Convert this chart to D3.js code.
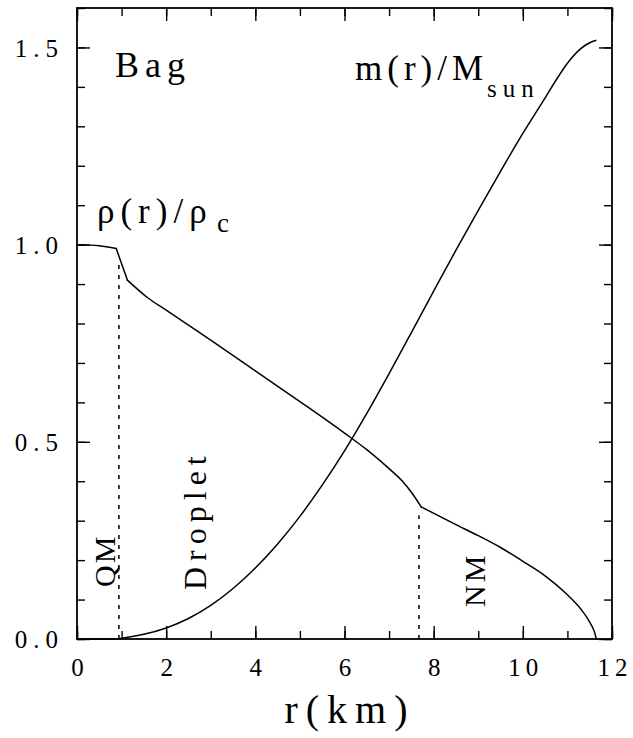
<!DOCTYPE html>
<html><head><meta charset="utf-8">
<script src="https://cdn.jsdelivr.net/npm/d3@7"></script>
<style>body{margin:0;background:#fff}svg{display:block}text{font-family:"Liberation Serif","DejaVu Serif",serif;fill:#000}</style>
</head><body>
<svg id="c" width="633" height="738"></svg>
<script>
// Data
const densityR   = [0, 0.5, 0.88, 1.13, 1.6, 2.0, 3.0, 4.0, 5.0, 6.0, 6.5, 7.0, 7.3, 7.5, 7.72, 8.5, 9.0, 9.5, 10.0, 10.5, 11.0, 11.3, 11.5, 11.6, 11.65];
const densityVal = [1.0, 0.997, 0.99, 0.91, 0.864, 0.834, 0.758, 0.68, 0.602, 0.522, 0.48, 0.432, 0.4, 0.372, 0.335, 0.29, 0.262, 0.232, 0.197, 0.16, 0.112, 0.076, 0.043, 0.02, 0.0];
const densityKinks = [0.88, 1.13, 7.72];
const massR      = [0, 0.5, 0.9, 1.0, 1.5, 2.0, 2.5, 3.0, 3.5, 4.0, 4.5, 5.0, 5.5, 6.0, 6.5, 7.0, 7.5, 8.0, 8.5, 9.0, 9.5, 10.0, 10.5, 10.75, 11.0, 11.3, 11.5, 11.65];
const massVal    = [0, 0, 0, 0.002, 0.012, 0.028, 0.052, 0.085, 0.128, 0.18, 0.241, 0.311, 0.39, 0.477, 0.572, 0.673, 0.777, 0.882, 0.986, 1.087, 1.186, 1.282, 1.372, 1.418, 1.46, 1.497, 1.512, 1.518];
const boundaryR   = [0.94, 7.67];
const boundaryTop = [0.96, 0.314];
const xMajorTicks = [0, 2, 4, 6, 8, 10, 12];
const yMajorTicks = [0.0, 0.5, 1.0, 1.5];

const svg = d3.select("#c");
const L = 77, R = 612, T = 8, B = 639;
const x = d3.scaleLinear().domain([0, 12]).range([L, R]);
const y = d3.scaleLinear().domain([0, 1.6]).range([B, T]);

const xMinor = d3.range(0, 12.001, 1);
const yMinor = d3.range(0, 1.6001, 0.1);

function clean(g){ g.select(".domain").remove(); g.selectAll(".tick line").attr("stroke","#000").attr("stroke-width",1.4); }

// bottom
svg.append("g").attr("transform",`translate(0,${B})`)
  .call(d3.axisBottom(x).tickValues(xMinor).tickSize(-8).tickFormat("")).call(clean);
svg.append("g").attr("transform",`translate(0,${B})`)
  .call(d3.axisBottom(x).tickValues(xMajorTicks).tickSize(-13).tickPadding(19).tickFormat(d3.format("d"))).call(clean)
  .call(g=>g.selectAll("text").attr("font-size",25).attr("letter-spacing",5).attr("dy","0.71em").attr("dx","2.5"));
// top
svg.append("g").attr("transform",`translate(0,${T})`)
  .call(d3.axisTop(x).tickValues(xMinor).tickSize(-8).tickFormat("")).call(clean);
svg.append("g").attr("transform",`translate(0,${T})`)
  .call(d3.axisTop(x).tickValues(xMajorTicks).tickSize(-13).tickFormat("")).call(clean);
// left
svg.append("g").attr("transform",`translate(${L},0)`)
  .call(d3.axisLeft(y).tickValues(yMinor).tickSize(-8).tickFormat("")).call(clean);
svg.append("g").attr("transform",`translate(${L},0)`)
  .call(d3.axisLeft(y).tickValues(yMajorTicks).tickSize(-13).tickPadding(13).tickFormat(d3.format(".1f"))).call(clean)
  .call(g=>g.selectAll("text").attr("font-size",25).attr("letter-spacing",6).attr("dy","0.35em"));
// right
svg.append("g").attr("transform",`translate(${R},0)`)
  .call(d3.axisRight(y).tickValues(yMinor).tickSize(-8).tickFormat("")).call(clean);
svg.append("g").attr("transform",`translate(${R},0)`)
  .call(d3.axisRight(y).tickValues(yMajorTicks).tickSize(-13).tickFormat("")).call(clean);

// frame
svg.append("rect").attr("x",L).attr("y",T).attr("width",R-L).attr("height",B-T)
  .attr("fill","none").attr("stroke","#000").attr("stroke-width",1.8);

// curves
const line = d3.line().x(d=>x(d[0])).y(d=>y(d[1])).curve(d3.curveMonotoneX);
const densPts = densityR.map((r,i)=>[r,densityVal[i]]);
// split density into smooth pieces at its kinks
const cuts = [0, ...densityKinks, 12];
for (let k = 0; k < cuts.length - 1; k++) {
  const seg = densPts.filter(p => p[0] >= cuts[k] && p[0] <= cuts[k+1]);
  svg.append("path").datum(seg).attr("d",line).attr("fill","none")
    .attr("stroke","#000").attr("stroke-width",1.5).attr("stroke-linejoin","round").attr("stroke-linecap","round");
}
svg.append("path").datum(massR.map((r,i)=>[r,massVal[i]]))
  .attr("d",line).attr("fill","none").attr("stroke","#000").attr("stroke-width",1.5);

// dotted boundaries
boundaryR.forEach((r,i)=>{
  svg.append("line").attr("x1",x(r)).attr("x2",x(r)).attr("y1",y(0)).attr("y2",y(boundaryTop[i]))
    .attr("stroke","#000").attr("stroke-width",1.5).attr("stroke-dasharray","4,6");
});

// labels
svg.append("text").attr("x",115).attr("y",77).attr("font-size",36).attr("letter-spacing",6).text("Bag");
const m = svg.append("text").attr("x",355).attr("y",80).attr("font-size",35).attr("letter-spacing",5);
m.append("tspan").text("m(r)/M");
m.append("tspan").attr("x",487).attr("y",97).attr("font-size",25).attr("letter-spacing",6).text("sun");
const rho = svg.append("text").attr("x",97).attr("y",223).attr("font-size",35).attr("letter-spacing",6);
rho.append("tspan").text("ρ(r)/ρ");
rho.append("tspan").attr("x",217).attr("y",232).attr("font-size",27).text("c");

function vlabel(px,py,txt,fs,ls){
  svg.append("text").attr("transform",`translate(${px},${py}) rotate(-90)`)
    .attr("font-size",fs).attr("letter-spacing",ls).text(txt);
}
vlabel(115,587,"QM",30,2);
vlabel(206,590,"Droplet",32,6);
vlabel(485,607,"NM",30,3);

svg.append("text").attr("x",350).attr("y",723).attr("text-anchor","middle")
  .attr("font-size",40).attr("letter-spacing",8).text("r(km)");
</script>
</body></html>
